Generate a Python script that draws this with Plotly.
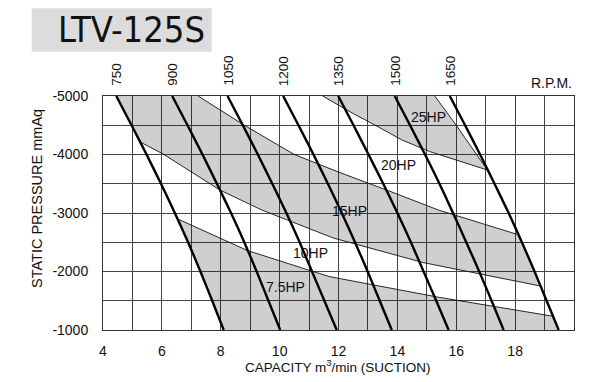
import plotly.graph_objects as go

# ---------------- data ----------------
PRESSURE_LEVELS = [-5000, -4500, -4000, -3500, -3000, -2500, -2000, -1500, -1000]

RPM_LABELS = ["750", "900", "1050", "1200", "1350", "1500", "1650"]
RPM_750 = [4.45, 4.97, 5.48, 5.97, 6.44, 6.89, 7.31, 7.71, 8.10]
RPM_900 = [6.35, 6.87, 7.38, 7.87, 8.35, 8.80, 9.22, 9.62, 10.02]
RPM_1050 = [8.23, 8.75, 9.26, 9.75, 10.23, 10.68, 11.10, 11.52, 11.94]
RPM_1200 = [10.12, 10.64, 11.15, 11.64, 12.11, 12.56, 12.99, 13.40, 13.81]
RPM_1350 = [11.99, 12.51, 13.02, 13.52, 14.00, 14.46, 14.89, 15.32, 15.74]
RPM_1500 = [13.91, 14.43, 14.94, 15.43, 15.89, 16.34, 16.78, 17.20, 17.61]
RPM_1650 = [15.78, 16.30, 16.81, 17.30, 17.78, 18.23, 18.66, 19.07, 19.48]

# power boundary curves (capacity, pressure)
HP25_LIMIT_X = [15.27, 16.00, 16.69, 17.06]
HP25_LIMIT_Y = [-5000, -4500, -4000, -3735]
HP25_20_X = [11.46, 12.50, 13.25, 14.15, 15.10, 16.00, 17.06]
HP25_20_Y = [-5000, -4700, -4500, -4250, -4050, -3900, -3735]
HP20_15_X = [7.23, 8.80, 10.50, 12.00, 13.70, 15.40, 18.10]
HP20_15_Y = [-5000, -4500, -4000, -3700, -3380, -3050, -2630]
HP15_10_X = [5.26, 6.04, 7.97, 9.40, 11.82, 14.90, 18.86]
HP15_10_Y = [-4214, -4009, -3393, -3050, -2573, -2150, -1752]
HP10_75_X = [6.53, 8.90, 10.95, 11.71, 15.40, 19.29]
HP10_75_Y = [-2900, -2360, -2030, -1911, -1560, -1235]

HP_LABELS = ["25HP", "20HP", "15HP", "10HP", "7.5HP"]
HP_LABEL_X = [15.05, 14.05, 12.39, 11.05, 10.20]
HP_LABEL_Y = [-4635, -3820, -3030, -2310, -1730]

X_TICKS = [4, 6, 8, 10, 12, 14, 16, 18]
X_TICK_TEXT = ["4", "6", "8", "10", "12", "14", "16", "18"]
Y_TICKS = [-5000, -4000, -3000, -2000, -1000]
Y_TICK_TEXT = ["-5000", "-4000", "-3000", "-2000", "-1000"]

RPM_LINES = [RPM_750, RPM_900, RPM_1050, RPM_1200, RPM_1350, RPM_1500, RPM_1650]

# ---------------- layout constants ----------------
W, H = 590, 382
ML, MR, MT, MB = 103, 16, 96, 52
PW, PH = W - ML - MR, H - MT - MB
FONT = "Liberation Sans, Arial, sans-serif"
SHADE = "rgba(0,0,0,0.19)"
GRID = "#444"


def px2paper_x(px):
    return (px - ML) / PW


def py2paper_y(py):
    return (H - MB - py) / PH


def line_part(line_x, y_a, y_b):
    """Vertices of an RPM line whose pressure lies between y_a and y_b (inclusive)."""
    lo, hi = min(y_a, y_b), max(y_a, y_b)
    pts = [(x, y) for x, y in zip(line_x, PRESSURE_LEVELS) if lo <= y <= hi]
    pts.sort(key=lambda p: p[1], reverse=(y_a > y_b))
    return [p[0] for p in pts], [p[1] for p in pts]


left_line, right_line = RPM_750, RPM_1650
fig = go.Figure()

# 25HP band
bx = HP25_20_X + HP25_LIMIT_X[::-1]
by = HP25_20_Y + HP25_LIMIT_Y[::-1]
fig.add_trace(go.Scatter(x=bx, y=by, fill="toself", fillcolor=SHADE, mode="none",
                         hoverinfo="skip", showlegend=False))

# 15HP band
sx, sy = line_part(right_line, HP20_15_Y[-1], HP15_10_Y[-1])
lx, ly = line_part(left_line, HP15_10_Y[0], PRESSURE_LEVELS[0])
bx = HP20_15_X + sx + HP15_10_X[::-1] + lx
by = HP20_15_Y + sy + HP15_10_Y[::-1] + ly
fig.add_trace(go.Scatter(x=bx, y=by, fill="toself", fillcolor=SHADE, mode="none",
                         hoverinfo="skip", showlegend=False))

# 7.5HP band
sx, sy = line_part(right_line, HP10_75_Y[-1], PRESSURE_LEVELS[-1])
lx, ly = line_part(left_line, PRESSURE_LEVELS[-1], HP10_75_Y[0])
bx = HP10_75_X + sx + lx
by = HP10_75_Y + sy + ly
fig.add_trace(go.Scatter(x=bx, y=by, fill="toself", fillcolor=SHADE, mode="none",
                         hoverinfo="skip", showlegend=False))

# thin power curves
for cx, cy in [(HP25_LIMIT_X, HP25_LIMIT_Y), (HP25_20_X, HP25_20_Y), (HP20_15_X, HP20_15_Y),
               (HP15_10_X, HP15_10_Y), (HP10_75_X, HP10_75_Y)]:
    fig.add_trace(go.Scatter(x=cx, y=cy, mode="lines", line=dict(color="#111", width=0.9),
                             hoverinfo="skip", showlegend=False))

# thick RPM lines
for lx_ in RPM_LINES:
    fig.add_trace(go.Scatter(x=lx_, y=PRESSURE_LEVELS, mode="lines",
                             line=dict(color="#000", width=2.4, shape="spline", smoothing=0.6),
                             hoverinfo="skip", showlegend=False))

ann = []
for lab, lx_ in zip(RPM_LABELS, RPM_LINES):
    ann.append(dict(x=lx_[0], y=PRESSURE_LEVELS[0], xref="x", yref="y", text=lab, showarrow=False,
                    textangle=-90, xanchor="center", yanchor="bottom", yshift=8,
                    font=dict(family=FONT, size=13.5, color="#111")))
for lab, hx, hy in zip(HP_LABELS, HP_LABEL_X, HP_LABEL_Y):
    ann.append(dict(x=hx, y=hy, xref="x", yref="y", text=lab, showarrow=False,
                    xanchor="center", yanchor="middle",
                    font=dict(family=FONT, size=14, color="#111")))
ann.append(dict(x=px2paper_x(573.5), y=py2paper_y(83), xref="paper", yref="paper", text="R.P.M.",
                showarrow=False, xanchor="right", yanchor="middle",
                font=dict(family=FONT, size=14, color="#111")))
ann.append(dict(x=px2paper_x(37), y=py2paper_y(199), xref="paper", yref="paper",
                text="STATIC PRESSURE mmAq", showarrow=False, textangle=-90,
                xanchor="center", yanchor="middle", font=dict(family=FONT, size=14.5, color="#111")))
ann.append(dict(x=px2paper_x(338), y=py2paper_y(366), xref="paper", yref="paper",
                text="CAPACITY m<sup>3</sup>/min (SUCTION)", showarrow=False,
                xanchor="center", yanchor="middle", font=dict(family=FONT, size=13.5, color="#111")))
ann.append(dict(x=px2paper_x(131), y=py2paper_y(30), xref="paper", yref="paper",
                text="LTV-125S", showarrow=False, xanchor="center", yanchor="middle",
                font=dict(family="Liberation Sans Narrow, DejaVu Sans Condensed, sans-serif",
                          size=36, color="#111")))

fig.update_layout(
    width=W, height=H, autosize=False,
    margin=dict(l=ML, r=MR, t=MT, b=MB, pad=0),
    paper_bgcolor="white", plot_bgcolor="white",
    annotations=ann,
    shapes=[dict(type="rect", xref="paper", yref="paper",
                 x0=px2paper_x(31.7), x1=px2paper_x(211.7),
                 y0=py2paper_y(51.7), y1=py2paper_y(8.3),
                 fillcolor="#dcdcdc", line=dict(width=0), layer="below")],
    font=dict(family=FONT, color="#111"),
)
fig.update_xaxes(range=[4, 20], tickvals=X_TICKS, ticktext=X_TICK_TEXT,
                 showgrid=True, gridcolor=GRID, gridwidth=1,
                 minor=dict(tick0=4, dtick=1, showgrid=True, gridcolor=GRID, gridwidth=1, ticks=""),
                 showline=True, mirror=True, linecolor="#333", linewidth=1,
                 ticks="", ticklabelstandoff=8, zeroline=False,
                 tickfont=dict(family=FONT, size=14, color="#111"))
fig.update_yaxes(range=[-1000, -5000], tickvals=Y_TICKS, ticktext=Y_TICK_TEXT,
                 showgrid=True, gridcolor=GRID, gridwidth=1,
                 minor=dict(tick0=-5000, dtick=500, showgrid=True, gridcolor=GRID, gridwidth=1, ticks=""),
                 showline=True, mirror=True, linecolor="#333", linewidth=1,
                 ticks="", ticklabelstandoff=11, zeroline=False,
                 tickfont=dict(family=FONT, size=14, color="#111"))

fig.write_html("out.html")
